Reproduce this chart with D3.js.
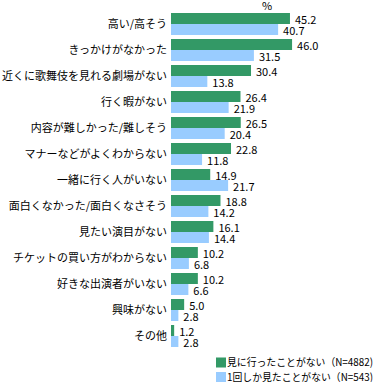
<!DOCTYPE html>
<html>
<head>
<meta charset="utf-8">
<script src="https://cdn.jsdelivr.net/npm/d3@7"></script>
<style>
  body { margin: 0; background: #fff; }
  text { font-family: "Noto Sans CJK JP", sans-serif; font-size: 11px; fill: #000; }
  .legend text { font-size: 10.5px; }
</style>
</head>
<body>
<svg id="chart" width="374" height="382"></svg>
<script>
const categories = [
  '高い/高そう', 'きっかけがなかった', '近くに歌舞伎を見れる劇場がない', '行く暇がない',
  '内容が難しかった/難しそう', 'マナーなどがよくわからない', '一緒に行く人がいない',
  '面白くなかった/面白くなさそう', '見たい演目がない', 'チケットの買い方がわからない',
  '好きな出演者がいない', '興味がない', 'その他'
];
const neverSeen = [45.2, 46.0, 30.4, 26.4, 26.5, 22.8, 14.9, 18.8, 16.1, 10.2, 10.2, 5.0, 1.2];
const seenOnce = [40.7, 31.5, 13.8, 21.9, 20.4, 11.8, 21.7, 14.2, 14.4, 6.8, 6.6, 2.8, 2.8];
const seriesNames = ['見に行ったことがない（N=4882)', '1回しか見たことがない（N=543)'];
const colors = ['#339966', '#99ccff'];

const svg = d3.select('#chart');

const xScale = d3.scaleLinear()
  .domain([0, 50])
  .range([171, 302.6]);

const yScale = d3.scaleBand()
  .domain(categories)
  .range([9, 351])
  .padding(4 / 26);

const sub = d3.scaleBand()
  .domain([0, 1])
  .range([0, yScale.bandwidth()]);

const rows = categories.map((c, i) => ({ cat: c, vals: [neverSeen[i], seenOnce[i]] }));

const group = svg.selectAll('g.row')
  .data(rows)
  .join('g')
  .attr('class', 'row')
  .attr('transform', d => `translate(0, ${yScale(d.cat)})`);

// category labels
group.append('text')
  .attr('x', 167)
  .attr('y', yScale.bandwidth() / 2)
  .attr('dy', '0.35em')
  .attr('text-anchor', 'end')
  .text(d => d.cat);

// bars
group.selectAll('rect')
  .data(d => d.vals)
  .join('rect')
  .attr('x', xScale(0))
  .attr('y', (d, i) => sub(i))
  .attr('width', d => xScale(d) - xScale(0))
  .attr('height', sub.bandwidth())
  .attr('fill', (d, i) => colors[i]);

// value labels
group.selectAll('text.val')
  .data(d => d.vals)
  .join('text')
  .attr('class', 'val')
  .attr('x', d => xScale(d) + 5)
  .attr('y', (d, i) => sub(i) + sub.bandwidth() / 2 + 2)
  .attr('dy', '0.35em')
  .text(d => d.toFixed(1));

// unit
svg.append('text')
  .attr('x', 267)
  .attr('y', 9.5)
  .attr('text-anchor', 'middle')
  .text('%');

// legend
const legend = svg.selectAll('g.legend')
  .data(seriesNames)
  .join('g')
  .attr('class', 'legend')
  .attr('transform', (d, i) => `translate(216, ${357.5 + i * 14.5})`);

legend.append('rect')
  .attr('width', 10)
  .attr('height', 10)
  .attr('fill', (d, i) => colors[i]);

legend.append('text')
  .attr('x', 11)
  .attr('y', 5)
  .attr('dy', '0.35em')
  .attr('textLength', 146)
  .attr('lengthAdjust', 'spacingAndGlyphs')
  .text(d => d);
</script>
</body>
</html>
